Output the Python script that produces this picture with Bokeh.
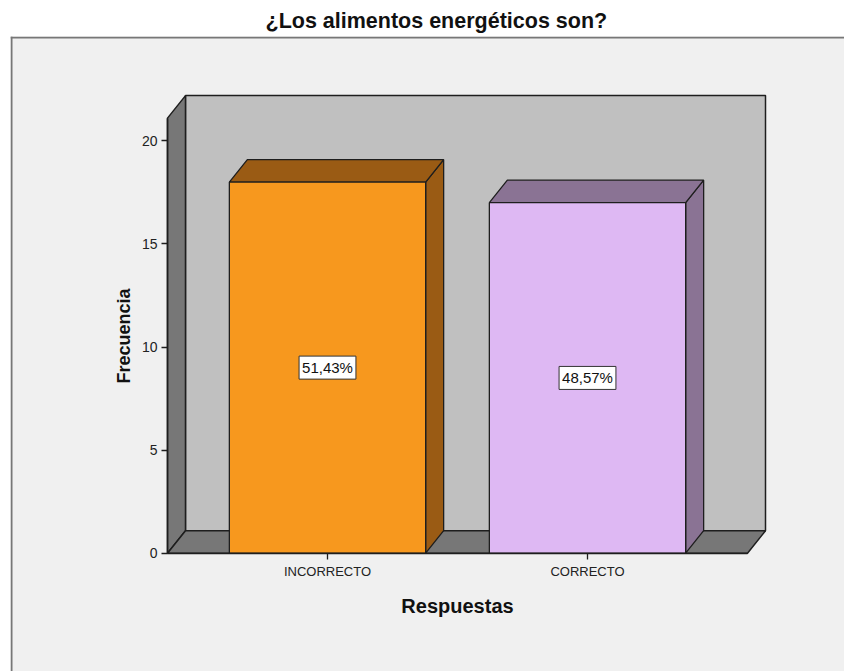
from bokeh.plotting import figure
from bokeh.models import LinearAxis, FixedTicker, Range1d
from bokeh.embed import file_html
from bokeh.resources import INLINE

# ---------------- data ----------------
title_text = "¿Los alimentos energéticos son?"
categories = ["INCORRECTO", "CORRECTO"]
frequencies = [18, 17]
percent_labels = ["51,43%", "48,57%"]
y_ticks = [0, 5, 10, 15, 20]
x_title = "Respuestas"
y_title = "Frecuencia"

# ---------------- styling / geometry ----------------
FONT = "Liberation Sans"
front_colors = ["#F7981E", "#DEB8F3"]
shade_colors = ["#9A5B14", "#8A7394"]
WALL_BACK = "#C0C0C0"
WALL_SIDE = "#777777"
EDGE = "#1e1e1e"

# pixel calibration (screen coordinates of the reference)
PX_X = 260.0          # px per category step
PX_Y = 20.62          # px per frequency unit
SX_CAT0 = 327.0       # screen x of first category centre
SY_ZERO = 552.7       # screen y of value 0
W, H = 844, 671
FRAME_L, FRAME_R, FRAME_T, FRAME_B = 10, W, 36, H

xs = [i + 1 for i in range(len(categories))]

def dx_from_sx(sx):
    return 1 + (sx - SX_CAT0) / PX_X

def y_from_sy(sy):
    return (SY_ZERO - sy) / PX_Y

x_start, x_end = dx_from_sx(FRAME_L), dx_from_sx(FRAME_R)
y_start, y_end = y_from_sy(FRAME_B), y_from_sy(FRAME_T)

BAR_W = 0.755
DEPTH_X = 18 / PX_X
DEPTH_Y = 22.5 / PX_Y
AX_L = 1.5 - 1.1154
AX_R = 1.5 + 1.1154
AX_TOP = 21.1

p = figure(width=W, height=H, output_backend="svg", toolbar_location=None,
           x_axis_type=None, y_axis_type=None,
           x_range=Range1d(x_start, x_end), y_range=Range1d(y_start, y_end),
           min_border_left=FRAME_L, min_border_right=0, min_border_bottom=0,
           min_border_top=FRAME_T, border_fill_color="white",
           background_fill_color="#F0F0F0", outline_line_color=None,
           title=title_text)
p.title.text_font = FONT
p.title.text_font_size = "21.5px"
p.title.text_font_style = "bold"
p.title.text_color = "#111111"
p.title.align = "left"
p.title.offset = 255
p.title.standoff = 7

# frame border lines (top and left)
p.segment(x0=[x_start, dx_from_sx(11)], y0=[y_from_sy(37), y_end],
          x1=[x_end, dx_from_sx(11)], y1=[y_from_sy(37), y_start],
          line_color="#777777", line_width=2)

# back wall
p.quad(left=[AX_L + DEPTH_X], right=[AX_R + DEPTH_X], bottom=[DEPTH_Y],
       top=[AX_TOP + DEPTH_Y], fill_color=WALL_BACK, line_color=EDGE, line_width=1.5)
# left wall
p.patch(x=[AX_L, AX_L, AX_L + DEPTH_X, AX_L + DEPTH_X],
        y=[0, AX_TOP, AX_TOP + DEPTH_Y, DEPTH_Y],
        fill_color=WALL_SIDE, line_color=EDGE, line_width=1.5)
# floor
p.patch(x=[AX_L, AX_R, AX_R + DEPTH_X, AX_L + DEPTH_X],
        y=[0, 0, DEPTH_Y, DEPTH_Y],
        fill_color=WALL_SIDE, line_color=EDGE, line_width=1.5)

# bars
for xc, v, fc, sc in zip(xs, frequencies, front_colors, shade_colors):
    L, R = xc - BAR_W / 2, xc + BAR_W / 2
    # side
    p.patch(x=[R, R, R + DEPTH_X, R + DEPTH_X], y=[0, v, v + DEPTH_Y, DEPTH_Y],
            fill_color=sc, line_color=EDGE, line_width=1.3)
    # top
    p.patch(x=[L, R, R + DEPTH_X, L + DEPTH_X], y=[v, v, v + DEPTH_Y, v + DEPTH_Y],
            fill_color=sc, line_color=EDGE, line_width=1.3)
    # front
    p.quad(left=[L], right=[R], bottom=[0], top=[v],
           fill_color=fc, line_color=EDGE, line_width=1.3)

# percentage labels
p.text(x=xs, y=[v / 2 for v in frequencies], text=percent_labels,
       text_align="center", text_baseline="middle",
       text_font={"value": FONT}, text_font_size={"value": "15px"}, text_color="#111111",
       background_fill_color="white", border_line_color="#333333",
       border_line_width=1, padding=3)

# axes
yaxis = LinearAxis(fixed_location=AX_L, bounds=(0, AX_TOP),
                   ticker=FixedTicker(ticks=y_ticks), axis_label=y_title)
xaxis = LinearAxis(fixed_location=0, bounds=(AX_L, AX_R),
                   ticker=FixedTicker(ticks=xs), axis_label=x_title,
                   major_label_overrides={x: c for x, c in zip(xs, categories)})
for ax in (xaxis, yaxis):
    ax.axis_line_color = EDGE
    ax.axis_line_width = 1.5
    ax.major_tick_line_color = EDGE
    ax.major_tick_line_width = 1.3
    ax.major_tick_in = 0
    ax.major_tick_out = 6
    ax.minor_tick_line_color = None
    ax.major_label_text_font = FONT
    ax.major_label_text_color = "#222222"
    ax.axis_label_text_font = FONT
    ax.axis_label_text_font_style = "bold"
    ax.axis_label_text_color = "#111111"
yaxis.major_label_text_font_size = "14px"
yaxis.major_label_standoff = 4
yaxis.axis_label_text_font_size = "18px"
yaxis.axis_label_standoff = 5
xaxis.major_label_text_font_size = "13px"
xaxis.major_label_standoff = 5
xaxis.axis_label_text_font_size = "20px"
xaxis.axis_label_standoff = 12
p.add_layout(yaxis, "left")
p.add_layout(xaxis, "below")

open("out.html", "w").write(file_html(p, INLINE))
